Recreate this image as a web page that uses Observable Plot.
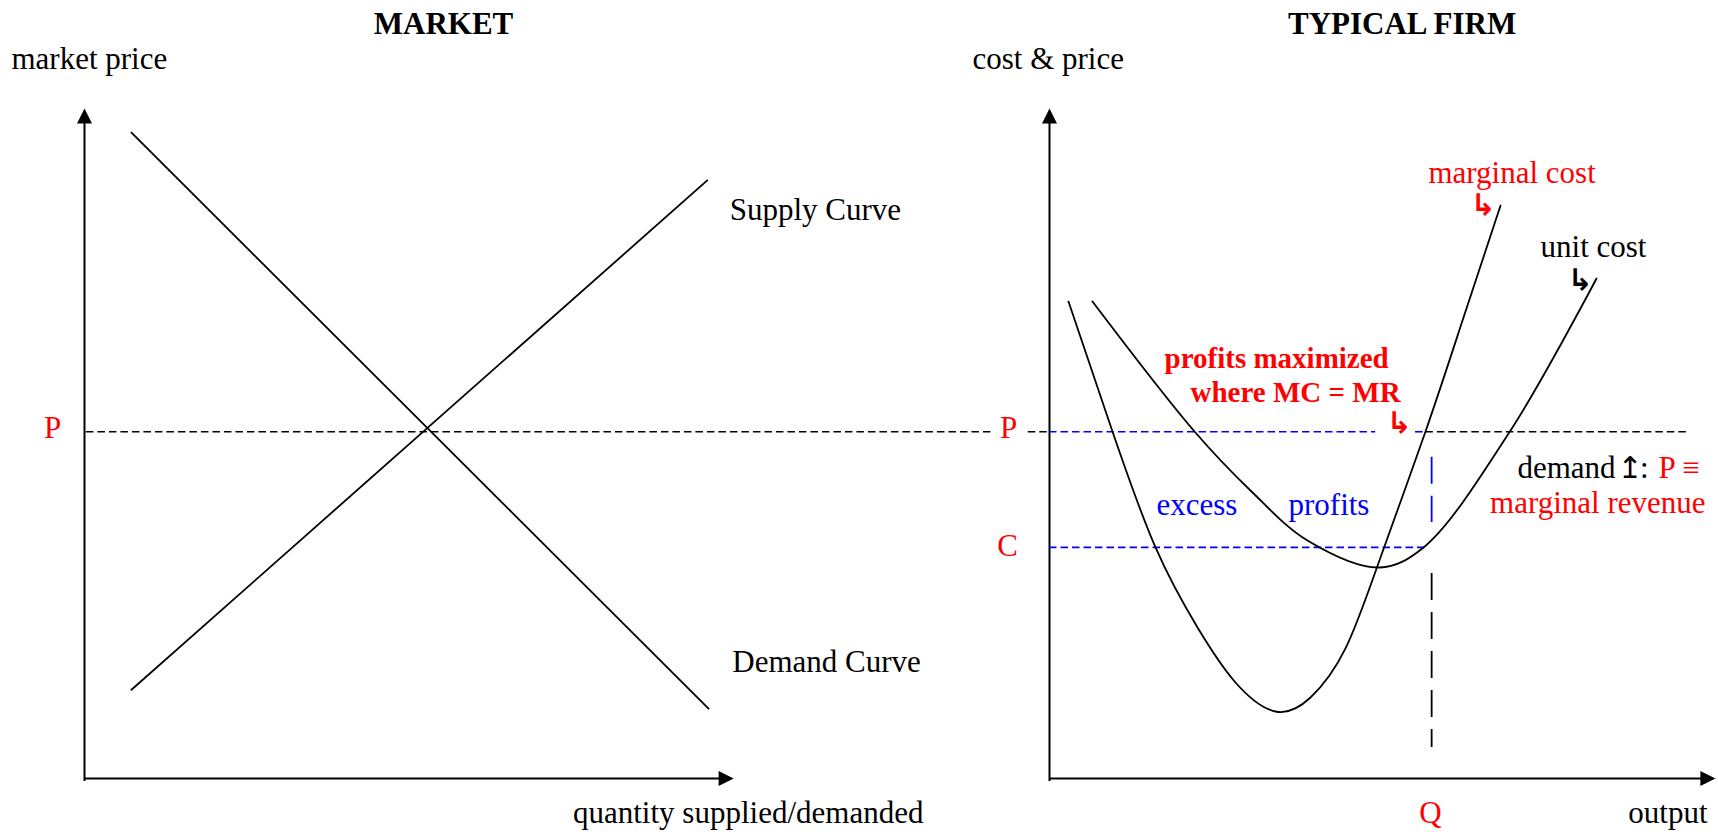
<!DOCTYPE html>
<html><head><meta charset="utf-8">
<script src="https://cdn.jsdelivr.net/npm/d3@7"></script>
<script src="https://cdn.jsdelivr.net/npm/@observablehq/plot@0.6"></script>
<style>html,body{margin:0;padding:0;background:#fff;} svg{display:block}</style>
</head><body><div id="chart"></div>
<script>
// ---------- data (diagram units: y = price / cost, x = quantity / output) ----------
const FIRM_OFFSET = 15;            // x origin of the "typical firm" panel
const P = 5.16, C = 3.44, Q = 5.94; // market price, unit cost at Q, firm output

// market panel
const demandQ = [0.73, 9.70], demandP = [9.61, 1.04];
const supplyQ = [0.73, 9.68], supplyP = [1.32, 8.90];

// firm panel (output measured from the firm's origin)
const mcOutput = [0.295, 0.979, 1.648, 2.301, 2.891, 3.513, 4.057, 4.601, 5.145, 5.845, 6.420, 7.011];
const mcCost   = [7.098, 5.164, 3.438, 2.247, 1.429, 0.997, 1.205, 1.935, 3.289, 5.164, 6.815, 8.527];
const ucOutput = [0.668, 2.254, 3.124, 4.010, 5.130, 5.814, 7.166, 8.503];
const ucCost   = [7.098, 5.164, 4.286, 3.542, 3.140, 3.438, 5.179, 7.440];

// guide lines
const priceGuideMarket = [[0.03, 14.13]];            // market x units
const priceGuideFirmBlack = [[-0.33, -0.03], [5.85, 9.93]];
const priceGuideFirmBlue = [[0, 5.07], [5.69, 5.81]];
const costGuideFirm = [[0, 5.89]];
const dropBlue = [[4.78, 3.81]];   // cost range of the blue part of the drop line at Q
const dropBlack = [[3.05, 0.46]];

// axes
const axisTop = 9.97, axisBottom = -0.045;
const marketAxisEnd = 10.09, firmAxisEnd = 10.35;

// text labels (firm-panel x measured from the firm's origin)
const marketTexts = [
  {label: "market price", x: -1.135, y: 10.565, anchor: "start"},
  {label: "Supply Curve", x: 10.03, y: 8.318, anchor: "start"},
  {label: "Demand Curve", x: 10.07, y: 1.592, anchor: "start"},
  {label: "quantity supplied/demanded", x: 13.04, y: -0.655, anchor: "end"}
];
const firmTexts = [
  {label: "cost & price", x: -1.197, y: 10.565, anchor: "start"},
  {label: "unit cost", x: 7.633, y: 7.753, anchor: "start"},
  {label: "demand", x: 8.80, y: 4.479, anchor: "end"},
  {label: ":", x: 9.18, y: 4.479, anchor: "start"},
  {label: "output", x: 10.228, y: -0.655, anchor: "end"}
];
const demandArrow = [{label: "\u21A5", x: 8.83, y: 4.479}];
const titles = [
  {label: "MARKET", x: 5.58, y: 11.086, panel: "market"},
  {label: "TYPICAL FIRM", x: 5.48, y: 11.086, panel: "firm"}
];
const redTexts = [
  {label: "P", x: -0.497, y: 5.06, anchor: "middle", panel: "market"},
  {label: "P", x: -0.637, y: 5.06, anchor: "middle", panel: "firm"},
  {label: "C", x: -0.653, y: 3.318, anchor: "middle", panel: "firm"},
  {label: "Q", x: 5.922, y: -0.655, anchor: "middle", panel: "firm"},
  {label: "marginal cost", x: 5.891, y: 8.869, anchor: "start", panel: "firm"},
  {label: "P \u2261", x: 9.466, y: 4.479, anchor: "start", panel: "firm"},
  {label: "marginal revenue", x: 10.197, y: 3.958, anchor: "end", panel: "firm"}
];
const redBoldTexts = [
  {label: "profits maximized", x: 1.788, y: 6.116},
  {label: "where MC = MR", x: 2.192, y: 5.61}
];
const blueTexts = [
  {label: "excess", x: 1.663, y: 3.914},
  {label: "profits", x: 3.715, y: 3.914}
];
const pointerGlyphs = [
  {x: 6.545, y: 8.534, color: "red"},
  {x: 8.053, y: 7.411, color: "black"},
  {x: 5.24, y: 5.29, color: "red"}
];

// ---------- build tables ----------
const firmX = v => FIRM_OFFSET + v;
const place = d => ({...d, x: d.panel === "market" ? d.x : firmX(d.x)});
const toFirm = d => ({...d, x: firmX(d.x)});
const demand = demandQ.map((q, i) => ({x: q, y: demandP[i]}));
const supply = supplyQ.map((q, i) => ({x: q, y: supplyP[i]}));
const mc = mcOutput.map((q, i) => ({x: firmX(q), y: mcCost[i]}));
const uc = ucOutput.map((q, i) => ({x: firmX(q), y: ucCost[i]}));
const seg = (arr, f, y) => arr.map(([a, b]) => ({x1: f(a), x2: f(b), y}));

const arrowUp = {draw(ctx) { ctx.moveTo(0, 0); ctx.lineTo(-7.5, 15); ctx.lineTo(7.5, 15); ctx.closePath(); }};
const arrowRight = {draw(ctx) { ctx.moveTo(0, 0); ctx.lineTo(-15, -7.5); ctx.lineTo(-15, 7.5); ctx.closePath(); }};

const RED = "#ff0000", BLUE = "#0000ff";
const serif = "'Liberation Serif','Times New Roman',serif";

function labels(data, opts) {
  return ["start", "middle", "end"].map(a =>
    Plot.text(data.filter(d => (d.anchor || "start") === a),
      {x: "x", y: "y", text: "label", textAnchor: a, lineAnchor: "bottom", fontSize: 31, ...opts}));
}

const dashH = {y: "y", x1: "x1", x2: "x2", strokeWidth: 1.6, strokeDasharray: "7.5,4"};

const chart = Plot.plot({
  width: 1718,
  height: 832,
  margin: 0,
  x: {type: "linear", domain: [0, 15], range: [84, 1049], axis: null},
  y: {type: "linear", domain: [0, 10], range: [778, 106], axis: null},
  style: {fontFamily: serif, fontSize: "31px", background: "#fff", overflow: "visible"},
  marks: [
    // axes
    Plot.ruleX([0, FIRM_OFFSET], {x: d => d, y1: axisBottom, y2: 9.8, stroke: "black", strokeWidth: 2}),
    Plot.ruleY([{x1: 0, x2: marketAxisEnd - 0.15}, {x1: FIRM_OFFSET, x2: firmX(firmAxisEnd) - 0.15}], {y: 0, x1: "x1", x2: "x2", stroke: "black", strokeWidth: 2}),
    Plot.dot([0, FIRM_OFFSET], {x: d => d, y: axisTop, symbol: arrowUp, fill: "black", stroke: "none"}),
    Plot.dot([marketAxisEnd, firmX(firmAxisEnd)], {x: d => d, y: 0, symbol: arrowRight, fill: "black", stroke: "none"}),

    // guide lines
    Plot.ruleY(seg(priceGuideMarket, v => v, P), {...dashH, stroke: "black"}),
    Plot.ruleY(seg(priceGuideFirmBlack, firmX, P), {...dashH, stroke: "black"}),
    Plot.ruleY(seg(priceGuideFirmBlue, firmX, P), {...dashH, stroke: BLUE}),
    Plot.ruleY(seg(costGuideFirm, firmX, C), {...dashH, stroke: BLUE}),
    Plot.ruleX(dropBlue.map(([a, b]) => ({x: firmX(Q), y1: a, y2: b})), {x: "x", y1: "y1", y2: "y2", stroke: BLUE, strokeWidth: 1.8, strokeDasharray: "27,12"}),
    Plot.ruleX(dropBlack.map(([a, b]) => ({x: firmX(Q), y1: a, y2: b})), {x: "x", y1: "y1", y2: "y2", stroke: "black", strokeWidth: 1.8, strokeDasharray: "27,12"}),

    // curves
    Plot.line(demand, {x: "x", y: "y", stroke: "black", strokeWidth: 1.8}),
    Plot.line(supply, {x: "x", y: "y", stroke: "black", strokeWidth: 1.8}),
    Plot.line(mc, {x: "x", y: "y", curve: "natural", stroke: "black", strokeWidth: 1.8}),
    Plot.line(uc, {x: "x", y: "y", curve: "catmull-rom", stroke: "black", strokeWidth: 1.8}),

    // texts
    Plot.text(titles.map(place), {x: "x", y: "y", text: "label", textAnchor: "middle", lineAnchor: "bottom", fontWeight: "bold", fontSize: 31, fill: "black"}),
    ...labels(marketTexts, {fill: "black"}),
    ...labels(firmTexts.map(toFirm), {fill: "black"}),
    Plot.text(demandArrow.map(toFirm), {x: "x", y: "y", text: "label", textAnchor: "start", lineAnchor: "bottom", fontSize: 30, fontFamily: "DejaVu Sans", fill: "black"}),
    ...labels(redTexts.map(place), {fill: RED}),
    ...labels(redBoldTexts.map(toFirm), {fill: RED, fontSize: 29, fontWeight: "bold"}),
    ...labels(blueTexts.map(toFirm), {fill: BLUE}),
    Plot.text(pointerGlyphs.filter(d => d.color === "red").map(toFirm), {x: "x", y: "y", text: () => "\u21B3", textAnchor: "start", lineAnchor: "middle", fontSize: 30, fontWeight: "bold", fontFamily: "DejaVu Sans", fill: RED}),
    Plot.text(pointerGlyphs.filter(d => d.color === "black").map(toFirm), {x: "x", y: "y", text: () => "\u21B3", textAnchor: "start", lineAnchor: "middle", fontSize: 30, fontWeight: "bold", fontFamily: "DejaVu Sans", fill: "black"})
  ]
});
document.getElementById("chart").appendChild(chart);
</script>
</body></html>
